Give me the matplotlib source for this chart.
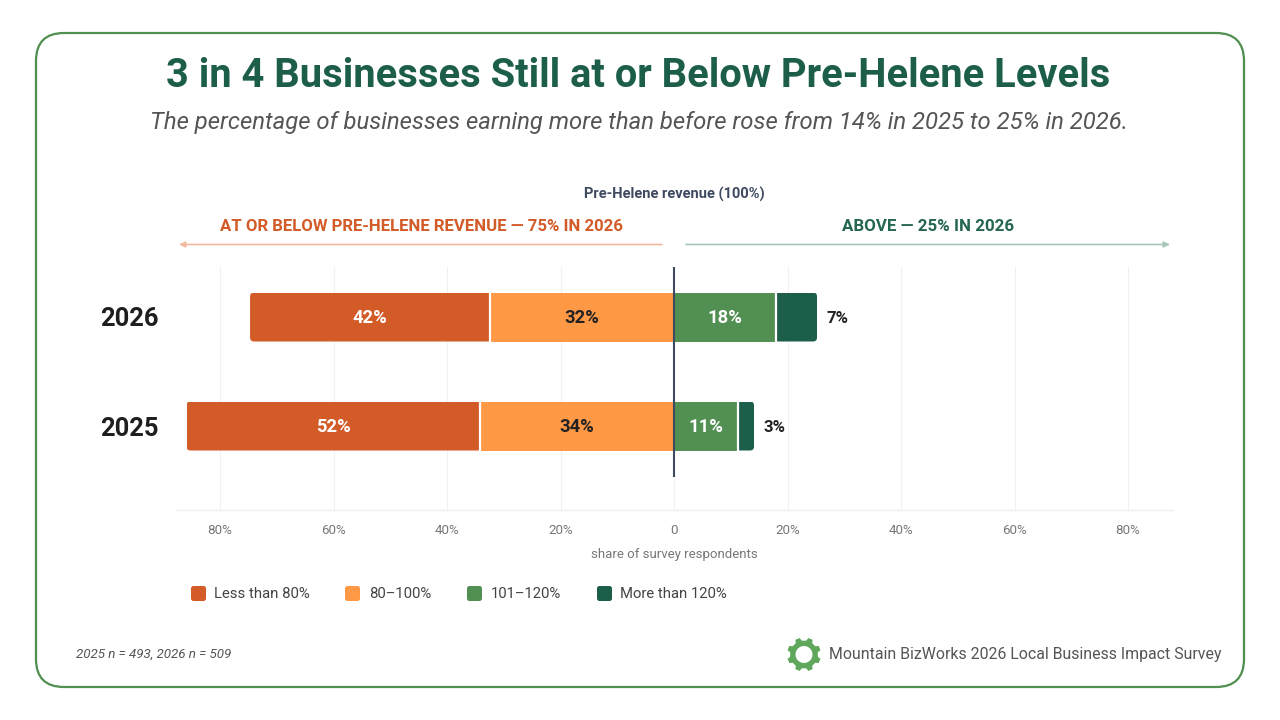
import matplotlib
matplotlib.use("Agg")
import numpy as np
import matplotlib.pyplot as plt
from matplotlib.patches import FancyBboxPatch, PathPatch
from matplotlib.path import Path
from matplotlib.transforms import IdentityTransform

plt.rcParams['font.family'] = ['Roboto', 'DejaVu Sans']

# ---- data ----
years = ["2025", "2026"]
less_than_80 = [51.7, 42.3]
from_80_100 = [34.2, 32.4]
from_101_120 = [11.2, 18.0]
more_than_120 = [2.9, 7.2]
series_names = ["Less than 80%", "80–100%", "101–120%", "More than 120%"]
tick_values = [-80, -60, -40, -20, 0, 20, 40, 60, 80]
tick_labels = ["80%", "60%", "40%", "20%", "0", "20%", "40%", "60%", "80%"]

TITLE = "3 in 4 Businesses Still at or Below Pre-Helene Levels"
SUBTITLE = "The percentage of businesses earning more than before rose from 14% in 2025 to 25% in 2026."

C_DARK_OR = "#D35B27"
C_OR = "#FF9945"
C_GR = "#528F53"
C_DARK_GR = "#1C5E4A"

W, H = 1280, 720
fig = plt.figure(figsize=(W / 100, H / 100), dpi=100, facecolor="white")

# overlay in pixel coordinates (y down) for frame, rules and legend
ov = fig.add_axes([0, 0, 1, 1], zorder=0)
ov.set_xlim(0, W)
ov.set_ylim(H, 0)
ov.axis("off")

ov.add_patch(FancyBboxPatch((36, 33), 1208, 654, boxstyle="round,pad=0,rounding_size=28",
                            fc="white", ec="#4F8F50", lw=1.6))

ov.text(638.5, 76, TITLE, ha="center", va="center", fontsize=28.7, fontweight="bold", color=C_DARK_GR)
ov.text(638.5, 122.5, SUBTITLE, ha="center", va="center", fontsize=17.22, style="italic", color="#555555")

ov.text(674.5, 194, "Pre-Helene revenue (100%)", ha="center", va="center", fontsize=10.55,
        fontweight="bold", color="#3F4A60")
ov.text(421, 226.5, "AT OR BELOW PRE-HELENE REVENUE — 75% IN 2026", ha="center", va="center",
        fontsize=12.1, fontweight="bold", color=C_DARK_OR)
ov.text(928, 226.5, "ABOVE — 25% IN 2026", ha="center", va="center",
        fontsize=12.2, fontweight="bold", color="#24664F")

ov.annotate("", xy=(179, 244.5), xytext=(662, 244.5),
            arrowprops=dict(arrowstyle="-|>,head_length=0.35,head_width=0.17", color="#F0B9A0",
                            lw=1.2, shrinkA=0, shrinkB=0))
ov.annotate("", xy=(1170, 244.5), xytext=(686, 244.5),
            arrowprops=dict(arrowstyle="-|>,head_length=0.35,head_width=0.17", color="#A6C6B8",
                            lw=1.2, shrinkA=0, shrinkB=0))

# chart axes: pixel box x 176–1173, y 267–510
x_per_px = 80 / (1128 - 674)
ax = fig.add_axes([176 / W, 1 - 510 / H, (1173 - 176) / W, (510 - 267) / H], zorder=1)
ax.patch.set_alpha(0)
ax.set_xlim((176 - 674) * x_per_px, (1173 - 674) * x_per_px)
y_unit = 109.0
ax.set_ylim(-(510 - 426) / y_unit, 1 + (317 - 267) / y_unit)
for s in ["top", "left", "right"]:
    ax.spines[s].set_visible(False)
ax.spines["bottom"].set_color("#EFEFEF")
ax.spines["bottom"].set_linewidth(1.0)
ax.set_xticks(tick_values)
ax.set_xticklabels(tick_labels, fontsize=9.6, color="#777777")
ax.tick_params(axis="x", length=0, pad=10)
ax.set_yticks([0, 1])
ax.set_yticklabels(years, fontsize=18.4, fontweight="bold", color="#1E1E1E")
ax.tick_params(axis="y", length=0, pad=12.7)
ax.xaxis.grid(True, color="#F1F1F1", lw=0.8)
ax.set_axisbelow(True)
ax.set_xlabel("share of survey respondents", fontsize=9.5, color="#777777", labelpad=7)
ax.xaxis.set_label_coords((674.5 - 176) / (1173 - 176), -(554.5 - 510) / (510 - 267))
ax.xaxis.label.set_va("center")

y = np.arange(len(years))
bar_h = 49 / y_unit
lt = np.array(less_than_80)
mid = np.array(from_80_100)
up = np.array(from_101_120)
top = np.array(more_than_120)

b1 = ax.barh(y, -lt, left=-mid, height=bar_h, color=C_DARK_OR, zorder=2)
b2 = ax.barh(y, -mid, height=bar_h, color=C_OR, zorder=2)
b3 = ax.barh(y, up, height=bar_h, color=C_GR, zorder=2)
b4 = ax.barh(y, top, left=up, height=bar_h, color=C_DARK_GR, zorder=2)

# white separators between neighbouring segments
for i in y:
    ax.plot([-mid[i]] * 2, [i - bar_h / 2, i + bar_h / 2], color="white", lw=1.6, zorder=3,
            solid_capstyle="butt")
    ax.plot([up[i]] * 2, [i - bar_h / 2, i + bar_h / 2], color="white", lw=1.6, zorder=3,
            solid_capstyle="butt")

# rounded outer corners
fig.canvas.draw()
for i in y:
    (x0, y0) = ax.transData.transform((-(lt[i] + mid[i]), i - bar_h / 2))
    (x1, y1) = ax.transData.transform((up[i] + top[i], i + bar_h / 2))
    for bar in (b1[i], b4[i]):
        clip = FancyBboxPatch((x0, y0), x1 - x0, y1 - y0, boxstyle="round,pad=0,rounding_size=4",
                              transform=IdentityTransform())
        bar.set_clip_path(clip)

ax.plot([0, 0], [ax.get_ylim()[1], -(477 - 426) / y_unit], color="#3F4A60", lw=1.5, zorder=4,
        solid_capstyle="butt")

# value labels
def inside(xv, yv, txt, col):
    ax.annotate(txt, (xv, yv), xytext=(0, -1), textcoords="offset points", ha="center", va="center",
                fontsize=13.2, fontweight="bold", color=col, zorder=5)

for i in y:
    inside(-mid[i] - lt[i] / 2, i, f"{lt[i]:.0f}%", "white")
    inside(-mid[i] / 2, i, f"{mid[i]:.0f}%", "#222222")
    inside(up[i] / 2, i, f"{up[i]:.0f}%", "white")
    ax.annotate(f"{top[i]:.0f}%", (up[i] + top[i], i), xytext=(6.5, -1), textcoords="offset points",
                ha="left", va="center", fontsize=12.1, fontweight="bold", color="#222222", zorder=5)

# legend
for x_sw, x_txt, name, col in zip([191, 345, 467, 597], [214.5, 369, 490.5, 620.5], series_names,
                                  [C_DARK_OR, C_OR, C_GR, C_DARK_GR]):
    ov.add_patch(FancyBboxPatch((x_sw, 586), 15, 15, boxstyle="round,pad=0,rounding_size=2.5",
                                fc=col, ec="none"))
    ov.text(x_txt, 594, name, ha="left", va="center", fontsize=10.7, color="#444444")

# footer
ov.text(75.5, 654.5, "2025 n = 493, 2026 n = 509", ha="left", va="center", fontsize=9.6,
        style="italic", color="#555555")
ov.text(829, 655, "Mountain BizWorks 2026 Local Business Impact Survey", ha="left", va="center",
        fontsize=11.45, color="#555555")

# gear logo
cx, cy, r_out, r_root, r_in, n = 804, 654.5, 17, 14, 8.5, 8
pts = []
for k in range(n):
    a = 2 * np.pi * k / n - np.pi / 8
    st = 2 * np.pi / n
    for frac, r in [(-0.30, r_root), (-0.17, r_out), (0.17, r_out), (0.30, r_root)]:
        pts.append((cx + r * np.cos(a + frac * st), cy + r * np.sin(a + frac * st)))
pts.append(pts[0])
codes = [Path.MOVETO] + [Path.LINETO] * (len(pts) - 2) + [Path.CLOSEPOLY]
t = np.linspace(0, 2 * np.pi, 49)[::-1]
hole = [(cx + r_in * np.cos(v), cy + r_in * np.sin(v)) for v in t]
hcodes = [Path.MOVETO] + [Path.LINETO] * (len(hole) - 2) + [Path.CLOSEPOLY]
ov.add_patch(PathPatch(Path(pts + hole, codes + hcodes), fc="#5FA85B", ec="none"))

fig.savefig("out.png", dpi=100, facecolor="white")
